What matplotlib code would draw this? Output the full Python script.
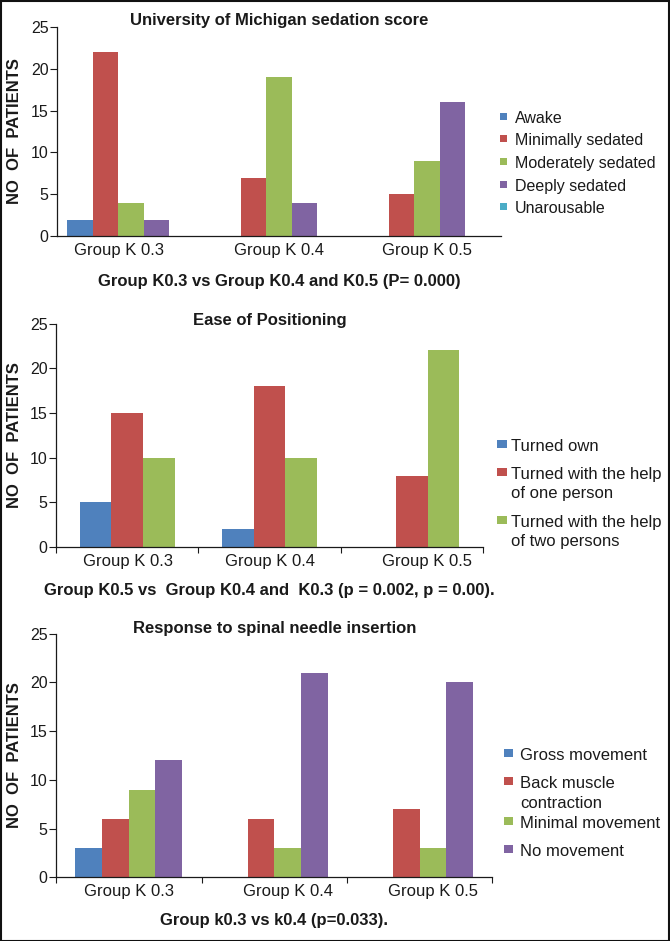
import matplotlib
matplotlib.use("Agg")
import matplotlib.pyplot as plt
import matplotlib.transforms as mtransforms
import numpy as np
from matplotlib.patches import Rectangle

plt.rcParams["font.family"] = ["Liberation Sans", "DejaVu Sans"]

groups = ["Group K 0.3", "Group K 0.4", "Group K 0.5"]

# panel 1: University of Michigan sedation score
sed_labels = ["Awake", "Minimally sedated", "Moderately sedated", "Deeply sedated", "Unarousable"]
sed_values = [
    [2, 0, 0],     # Awake
    [22, 7, 5],    # Minimally sedated
    [4, 19, 9],    # Moderately sedated
    [2, 4, 16],    # Deeply sedated
    [0, 0, 0],     # Unarousable
]

# panel 2: ease of positioning
pos_labels = ["Turned own", "Turned with the help\nof one person", "Turned with the help\nof two persons"]
pos_values = [
    [5, 2, 0],
    [15, 18, 8],
    [10, 10, 22],
]

# panel 3: response to spinal needle insertion
resp_labels = ["Gross movement", "Back muscle\ncontraction", "Minimal movement", "No movement"]
resp_values = [
    [3, 0, 0],
    [6, 6, 7],
    [9, 3, 3],
    [12, 21, 20],
]

titles = ["University of Michigan sedation score", "Ease of Positioning",
          "Response to spinal needle insertion"]
captions = ["Group K0.3 vs Group K0.4 and K0.5 (P= 0.000)",
            "Group K0.5 vs  Group K0.4 and  K0.3 (p = 0.002, p = 0.00).",
            "Group k0.3 vs k0.4 (p=0.033)."]

colors = ["#4F81BD", "#C0504D", "#9BBB59", "#8064A2", "#4BACC6"]
txt = "#1a1a1a"

W, H = 670, 941
fig = plt.figure(figsize=(W / 100, H / 100), dpi=100)

# layout in pixels
boxes = [(57, 501, 26.7, 236.3), (56, 483, 323.7, 547), (56, 492.5, 633.7, 877.3)]
bar_w = [0.173, 0.222, 0.183]
label_shift = [[-12.5, 0, 0], [1, 0.5, 15.5], [0, 14, 13]]
title_y = [20, 321, 629]
cap_y = [281, 590, 920]
# legend: square left, text left, first-line y of each entry, line pitch, font size, square w/h
legends = [
    (500, 515, [117, 139.5, 162.5, 185, 207.5], 20, 11.5, (7, 7)),
    (497, 511, [445, 473, 521], 19, 12, (10, 8.5)),
    (504, 520, [754, 782, 822, 850], 20, 12, (9, 8.5)),
]
panels = [(sed_labels, sed_values), (pos_labels, pos_values), (resp_labels, resp_values)]

for k, (labels, values) in enumerate(panels):
    l, r, t, b = boxes[k]
    ax = fig.add_axes([l / W, 1 - b / H, (r - l) / W, (b - t) / H])
    n = len(values)
    w = bar_w[k]
    x = np.arange(len(groups))
    for i, vals in enumerate(values):
        ax.bar(x + (i - (n - 1) / 2) * w, vals, width=w, color=colors[i], label=labels[i])
    ax.set_xlim(-0.5, 2.5)
    ax.set_ylim(0, 25)
    ax.set_yticks(np.arange(0, 26, 5))
    ax.set_xticks(x)
    ax.set_xticklabels(groups)
    ax.tick_params(axis="x", length=0, pad=5, labelsize=12, colors=txt)
    ax.tick_params(axis="y", length=5, width=0.8, pad=1.2, labelsize=11.5, colors=txt)
    for lab, dx in zip(ax.get_xticklabels(), label_shift[k]):
        lab.set_transform(lab.get_transform() +
                          mtransforms.ScaledTranslation(dx / 100, 0, fig.dpi_scale_trans))
    if k > 0:
        ax.set_xticks([-0.5, 0.5, 1.5, 2.5], minor=True)
        ax.tick_params(axis="x", which="minor", length=4, width=0.8, color=txt)
    for s in ["top", "right"]:
        ax.spines[s].set_visible(False)
    for s in ["left", "bottom"]:
        ax.spines[s].set_color(txt)
        ax.spines[s].set_linewidth(0.9)

    cx = (l + r) / 2 / W
    fig.text(cx, 1 - title_y[k] / H, titles[k], ha="center", va="center",
             fontsize=12, fontweight="bold", color=txt)
    fig.text(cx, 1 - cap_y[k] / H, captions[k], ha="center", va="center",
             fontsize=12, fontweight="bold", color=txt)
    fig.text(15 / W, 1 - (t + b) / 2 / H, "NO  OF  PATIENTS", rotation=90,
             ha="center", va="center", fontsize=12, fontweight="bold", color=txt)

    # legend drawn next to the axes
    sq_x, tx, ys, pitch, fs, (sw, sh) = legends[k]
    cap_half = 0.358 * fs * 100 / 72
    for i, lab in enumerate(labels):
        y0 = ys[i]
        fig.patches.append(Rectangle((sq_x / W, 1 - (y0 - 1 + sh / 2) / H), sw / W, sh / H,
                                     transform=fig.transFigure, facecolor=colors[i],
                                     edgecolor="none"))
        for j, line in enumerate(lab.split("\n")):
            fig.text(tx / W, 1 - (y0 + j * pitch + cap_half) / H, line, ha="left",
                     va="baseline", fontsize=fs, color=txt)

# outer frame
fig.patches.append(Rectangle((0.5 / W, 0.5 / H), 1 - 1.5 / W, 1 - 1.5 / H,
                             transform=fig.transFigure, fill=False,
                             edgecolor="#111111", linewidth=1.5))

fig.savefig("out.png", dpi=100)
